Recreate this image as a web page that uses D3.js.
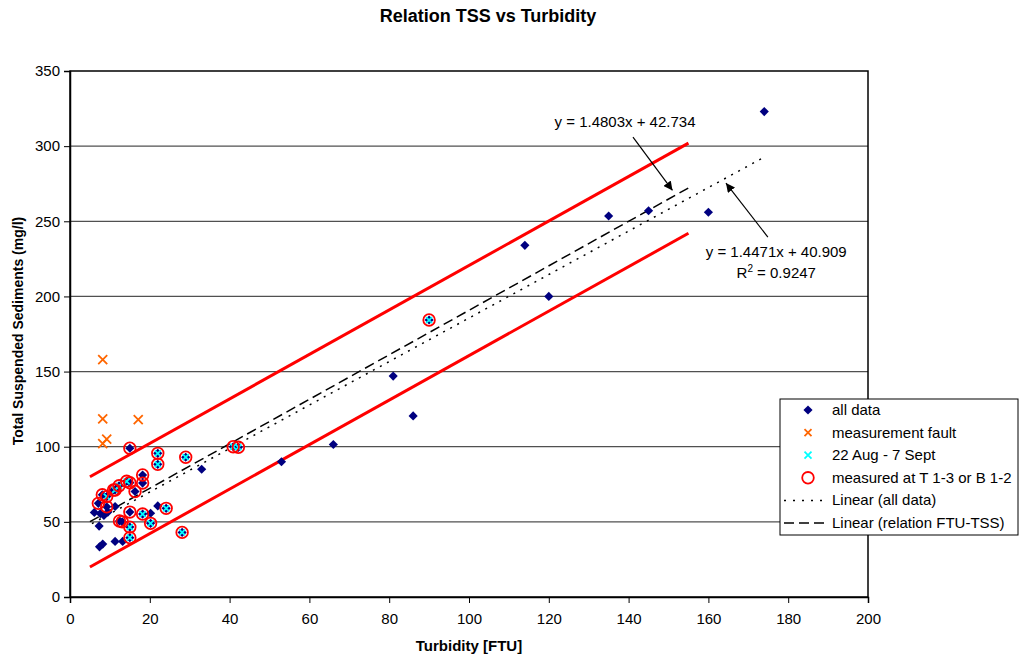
<!DOCTYPE html>
<html>
<head>
<meta charset="utf-8">
<script src="https://cdn.jsdelivr.net/npm/d3@7"></script>
<style>
    body { margin: 0; background: #fff; }
    text { font-family: Arial, "Liberation Sans", sans-serif; }
</style>
</head>
<body>
<div id="svg-container"></div>
<script>
// Turbidity [FTU], TSS [mg/l] pairs
const allData = [
    [174, 323], [160, 256], [145, 257], [135, 253.5], [114, 234], [120, 200],
    [81, 147], [86, 120.5], [66, 101.5], [53, 90], [33, 85], [22, 60.6],
    [20.2, 55.7], [13.2, 37], [11.3, 37], [8.2, 35.2], [7.4, 33.4], [7.3, 47.2],
    [6.1, 56.3], [7.6, 55.5], [8.5, 54.3], [11.3, 60.2], [9.5, 56.5],
    [15, 99], [18.2, 81.2], [18.2, 75.8], [16.3, 70.2], [15, 76], [13.1, 50],
    [12.4, 50.6], [15, 56.5], [7.1, 62.3], [8.1, 68], [9.2, 60], [10.9, 71.2],
    [90, 184.3], [42.2, 99.6], [40.9, 100], [29, 93], [22, 95.6], [22, 88.3],
    [28.1, 43], [24.1, 59], [20.2, 49], [18.2, 55.2], [15, 46.5], [15, 39.5],
    [14.2, 77], [12.3, 74], [11.3, 71.2], [9.2, 66.8]
];
const faultData = [[8.2, 158], [8.2, 118.5], [17.1, 118], [9.2, 105], [8.2, 102]];
const augData = [
    [90, 184.3], [42.2, 99.6], [40.9, 100], [29, 93], [22, 95.6], [22, 88.3],
    [28.1, 43], [24.1, 59], [20.2, 49], [18.2, 55.2], [15, 46.5], [15, 39.5],
    [14.2, 77], [12.3, 74], [11.3, 71.2], [9.2, 66.8]
];
const measuredData = [
    [15, 99], [18.2, 81.2], [18.2, 75.8], [16.3, 70.2], [15, 76], [13.1, 50],
    [12.4, 50.6], [15, 56.5], [7.1, 62.3], [8.1, 68], [9.2, 60], [10.9, 71.2],
    [90, 184.3], [42.2, 99.6], [40.9, 100], [29, 93], [22, 95.6], [22, 88.3],
    [28.1, 43], [24.1, 59], [20.2, 49], [18.2, 55.2], [15, 46.5], [15, 39.5],
    [14.2, 77], [12.3, 74], [11.3, 71.2], [9.2, 66.8]
];

// trendlines (Excel equations) and the red band lines
const fitAll = { slope: 1.4471, intercept: 40.909, x0: 5.5, x1: 174 };
const fitRelation = { slope: 1.4803, intercept: 42.734, x0: 5, x1: 155 };
const redUpper = [[5, 80], [155, 302]];
const redLower = [[5, 20], [155, 242]];

const xTicks = [0, 20, 40, 60, 80, 100, 120, 140, 160, 180, 200];
const yTicks = [0, 50, 100, 150, 200, 250, 300, 350];

const legendItems = [
    { label: "all data", type: "diamond" },
    { label: "measurement fault", type: "fault" },
    { label: "22 Aug - 7 Sept", type: "aug" },
    { label: "measured at T 1-3 or B 1-2", type: "circle" },
    { label: "Linear (all data)", type: "dotted" },
    { label: "Linear (relation FTU-TSS)", type: "dashed" }
];

const width = 1019, height = 655;
const svg = d3.select("#svg-container")
    .append("svg")
    .attr("width", width)
    .attr("height", height);

const x = d3.scaleLinear().domain([0, 200]).range([70, 868]);
const y = d3.scaleLinear().domain([0, 350]).range([597, 71]);

// gridlines
svg.append("g")
    .selectAll("line")
    .data(yTicks.filter(d => d > 0 && d < 350))
    .enter()
    .append("line")
    .attr("x1", x(0))
    .attr("x2", x(200))
    .attr("y1", d => y(d))
    .attr("y2", d => y(d))
    .attr("stroke", "#505050")
    .attr("stroke-width", 1.2);

// plot frame
svg.append("rect")
    .attr("x", x(0))
    .attr("y", y(350))
    .attr("width", x(200) - x(0))
    .attr("height", y(0) - y(350))
    .attr("fill", "none")
    .attr("stroke", "#000")
    .attr("stroke-width", 1.5);

// axes
const xAxis = svg.append("g")
    .attr("transform", `translate(0, ${y(0)})`)
    .call(d3.axisBottom(x).tickValues(xTicks).tickSize(6).tickPadding(10));
const yAxis = svg.append("g")
    .attr("transform", `translate(${x(0)}, 0)`)
    .call(d3.axisLeft(y).tickValues(yTicks).tickSize(6).tickPadding(4));
[xAxis, yAxis].forEach(a => {
    a.select(".domain").attr("stroke", "#000").attr("stroke-width", 1.5);
    a.selectAll(".tick line").attr("stroke", "#000");
    a.selectAll(".tick text")
        .attr("fill", "#000")
        .style("font-size", "15px")
        .style("font-family", "Arial, 'Liberation Sans', sans-serif");
});

// title and axis labels
svg.append("text")
    .attr("x", 488)
    .attr("y", 22)
    .attr("text-anchor", "middle")
    .style("font-size", "18px")
    .style("font-weight", "bold")
    .text("Relation TSS vs Turbidity");

svg.append("text")
    .attr("x", x(100))
    .attr("y", 651)
    .attr("text-anchor", "middle")
    .style("font-size", "15px")
    .style("font-weight", "bold")
    .text("Turbidity [FTU]");

svg.append("text")
    .attr("transform", `translate(23, ${y(177)}) rotate(-90)`)
    .attr("text-anchor", "middle")
    .style("font-size", "14px")
    .style("font-weight", "bold")
    .text("Total Suspended Sediments (mg/l)");

// red band lines
const line = d3.line().x(d => x(d[0])).y(d => y(d[1]));
[redUpper, redLower].forEach(d => {
    svg.append("path")
        .attr("d", line(d))
        .attr("fill", "none")
        .attr("stroke", "#FF0000")
        .attr("stroke-width", 3);
});

// trendlines
function fitPoints(f) {
    return [[f.x0, f.slope * f.x0 + f.intercept], [f.x1, f.slope * f.x1 + f.intercept]];
}
svg.append("path")
    .attr("d", line(fitPoints(fitAll)))
    .attr("fill", "none")
    .attr("stroke", "#000")
    .attr("stroke-width", 1.5)
    .attr("stroke-dasharray", "2,6");
svg.append("path")
    .attr("d", line(fitPoints(fitRelation)))
    .attr("fill", "none")
    .attr("stroke", "#000")
    .attr("stroke-width", 1.5)
    .attr("stroke-dasharray", "10,5");

// marker shapes
const diamondPath = d3.symbol().type(d3.symbolSquare).size(42)();
function crossPath(r) {
    return `M${-r},${-r}L${r},${r}M${-r},${r}L${r},${-r}`;
}

function drawDiamond(g, cx, cy) {
    g.append("path")
        .attr("d", diamondPath)
        .attr("transform", `translate(${cx},${cy}) rotate(45)`)
        .attr("fill", "#000080");
}
function drawCross(g, cx, cy, r, color) {
    g.append("path")
        .attr("d", crossPath(r))
        .attr("transform", `translate(${cx},${cy})`)
        .attr("fill", "none")
        .attr("stroke", color)
        .attr("stroke-width", 1.8);
}
function drawCircle(g, cx, cy) {
    g.append("circle")
        .attr("cx", cx)
        .attr("cy", cy)
        .attr("r", 5.8)
        .attr("fill", "none")
        .attr("stroke", "#FF0000")
        .attr("stroke-width", 1.8);
}

const points = svg.append("g");
allData.forEach(d => drawDiamond(points, x(d[0]), y(d[1])));
faultData.forEach(d => drawCross(points, x(d[0]), y(d[1]), 4.5, "#FF6600"));
augData.forEach(d => drawCross(points, x(d[0]), y(d[1]), 3, "#00FFFF"));
measuredData.forEach(d => drawCircle(points, x(d[0]), y(d[1])));

// arrow annotations
svg.append("defs").append("marker")
    .attr("id", "arrow")
    .attr("viewBox", "0 0 10 10")
    .attr("refX", 10)
    .attr("refY", 5)
    .attr("markerWidth", 9)
    .attr("markerHeight", 9)
    .attr("markerUnits", "userSpaceOnUse")
    .attr("orient", "auto")
    .append("path")
    .attr("d", "M0,0L10,5L0,10z")
    .attr("fill", "#000");

const arrows = [
    [[141.1, 306], [151, 270.5]],
    [[174.9, 239.5], [164.4, 275.4]]
];
arrows.forEach(a => {
    svg.append("line")
        .attr("x1", x(a[0][0]))
        .attr("y1", y(a[0][1]))
        .attr("x2", x(a[1][0]))
        .attr("y2", y(a[1][1]))
        .attr("stroke", "#000")
        .attr("stroke-width", 1.2)
        .attr("marker-end", "url(#arrow)");
});

svg.append("text")
    .attr("x", x(139.1))
    .attr("y", y(313))
    .attr("text-anchor", "middle")
    .style("font-size", "15px")
    .text("y = 1.4803x + 42.734");

svg.append("text")
    .attr("x", x(177))
    .attr("y", y(226))
    .attr("text-anchor", "middle")
    .style("font-size", "15px")
    .text("y = 1.4471x + 40.909");

const r2 = svg.append("text")
    .attr("x", x(177))
    .attr("y", y(212))
    .attr("text-anchor", "middle")
    .style("font-size", "15px");
r2.append("tspan").text("R");
r2.append("tspan").attr("dy", -6).style("font-size", "10px").text("2");
r2.append("tspan").attr("dy", 6).text(" = 0.9247");

// legend
const legend = svg.append("g")
    .attr("transform", "translate(780, 399)");
legend.append("rect")
    .attr("width", 238)
    .attr("height", 136)
    .attr("fill", "#fff")
    .attr("stroke", "#000")
    .attr("stroke-width", 1);

legendItems.forEach((d, i) => {
    const cy = 11 + i * 22.6;
    if (d.type === "diamond") drawDiamond(legend, 28, cy);
    if (d.type === "fault") drawCross(legend, 28, cy, 3.5, "#FF6600");
    if (d.type === "aug") drawCross(legend, 28, cy, 3.5, "#00FFFF");
    if (d.type === "circle") drawCircle(legend, 28, cy);
    if (d.type === "dotted" || d.type === "dashed") {
        legend.append("line")
            .attr("x1", 4)
            .attr("x2", 47)
            .attr("y1", cy)
            .attr("y2", cy)
            .attr("stroke", "#000")
            .attr("stroke-width", 1.5)
            .attr("stroke-dasharray", d.type === "dotted" ? "2,7" : "10,5");
    }
    legend.append("text")
        .attr("x", 52)
        .attr("y", cy + 5)
        .style("font-size", "15px")
        .text(d.label);
});
</script>
</body>
</html>
